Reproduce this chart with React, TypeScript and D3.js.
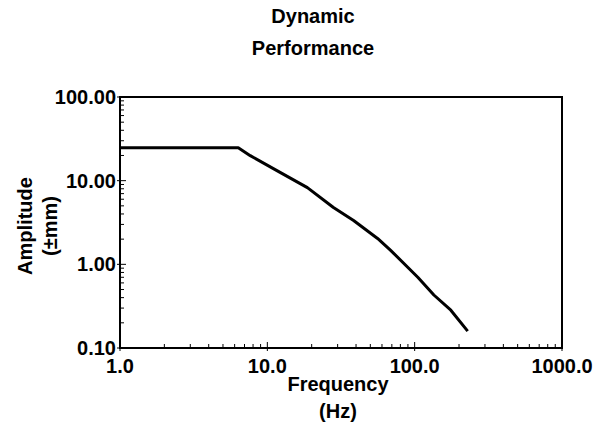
import React, { useEffect, useRef } from "react";
import * as d3 from "d3";

// amplitude response
const freqHz = [1.0, 2.0, 4.0, 6.35, 7.66, 11.7, 18.7, 28.1, 38.5, 56.0, 68.7, 105, 135, 176, 229];
const ampMm = [24.7, 24.7, 24.7, 24.7, 19.9, 13.1, 8.26, 4.77, 3.34, 2.04, 1.47, 0.70, 0.43, 0.283, 0.159];

const xTickVals = [1, 10, 100, 1000];
const xTickLabels = ["1.0", "10.0", "100.0", "1000.0"];
const yTickVals = [0.1, 1, 10, 100];
const yTickLabels = ["0.10", "1.00", "10.00", "100.00"];

const FONT = "'Liberation Sans', Arial, sans-serif";

function App() {
  const ref = useRef<SVGSVGElement>(null);

  useEffect(() => {
    const svg = d3.select(ref.current);
    svg.selectAll("*").remove();

    const left = 120, right = 562, top = 97, bottom = 348;

    const x = d3.scaleLog().domain([1, 1000]).range([left, right]);
    const y = d3.scaleLog().domain([0.1, 100]).range([bottom, top]);

    const g = svg.append("g");

    // minor ticks
    const minors: number[] = [];
    for (let d = 0.1; d < 1000; d *= 10) {
      for (let k = 2; k <= 9; k++) minors.push(d * k);
    }
    const xMinor = minors.filter(v => v > 1 && v < 1000);
    const yMinor = minors.filter(v => v > 0.1 && v < 100);

    g.selectAll(".xminor").data(xMinor).join("line")
      .attr("class", "xminor")
      .attr("x1", d => x(d)).attr("x2", d => x(d))
      .attr("y1", bottom).attr("y2", bottom - 4)
      .attr("stroke", "#000").attr("stroke-width", 1);
    g.selectAll(".yminor").data(yMinor).join("line")
      .attr("class", "yminor")
      .attr("x1", left).attr("x2", left + 4)
      .attr("y1", d => y(d)).attr("y2", d => y(d))
      .attr("stroke", "#000").attr("stroke-width", 1);

    // major ticks
    g.selectAll(".xmajor").data(xTickVals).join("line")
      .attr("class", "xmajor")
      .attr("x1", d => x(d)).attr("x2", d => x(d))
      .attr("y1", bottom + 3).attr("y2", bottom - 6)
      .attr("stroke", "#000").attr("stroke-width", 1);
    g.selectAll(".ymajor").data(yTickVals).join("line")
      .attr("class", "ymajor")
      .attr("x1", left - 3).attr("x2", left + 6)
      .attr("y1", d => y(d)).attr("y2", d => y(d))
      .attr("stroke", "#000").attr("stroke-width", 1);

    // frame
    g.append("rect")
      .attr("x", left).attr("y", top)
      .attr("width", right - left).attr("height", bottom - top)
      .attr("fill", "none").attr("stroke", "#000").attr("stroke-width", 2);

    // tick labels
    g.selectAll(".xlab").data(xTickVals).join("text")
      .attr("class", "xlab")
      .attr("x", d => x(d)).attr("y", 373)
      .attr("text-anchor", "middle")
      .style("font-family", FONT).style("font-size", "20px").style("font-weight", "bold")
      .text((d, i) => xTickLabels[i]);
    g.selectAll(".ylab").data(yTickVals).join("text")
      .attr("class", "ylab")
      .attr("x", left - 4).attr("y", d => y(d) + 7)
      .attr("text-anchor", "end")
      .style("font-family", FONT).style("font-size", "20px").style("font-weight", "bold")
      .text((d, i) => yTickLabels[i]);

    // curve
    const line = d3.line<number>()
      .x((d, i) => x(freqHz[i]))
      .y(d => y(d));
    g.append("path")
      .datum(ampMm)
      .attr("d", line)
      .attr("fill", "none")
      .attr("stroke", "#000")
      .attr("stroke-width", 3)
      .attr("stroke-linejoin", "round");

    // titles
    const txt = (tx: number, ty: number, s: string, rot?: boolean) => {
      const t = g.append("text")
        .attr("text-anchor", "middle")
        .style("font-family", FONT).style("font-size", "20px").style("font-weight", "bold")
        .text(s);
      if (rot) t.attr("transform", `translate(${tx},${ty}) rotate(-90)`);
      else t.attr("x", tx).attr("y", ty);
    };
    txt(313, 23, "Dynamic");
    txt(313, 55, "Performance");
    txt(338, 391, "Frequency");
    txt(338, 418, "(Hz)");
    txt(32, 226, "Amplitude", true);
    txt(57, 226, "(±mm)", true);
  }, []);

  return (
    <svg ref={ref} width={597} height={427}
      style={{ position: "absolute", left: 0, top: 0, background: "#fff" }} />
  );
}

export default App;
